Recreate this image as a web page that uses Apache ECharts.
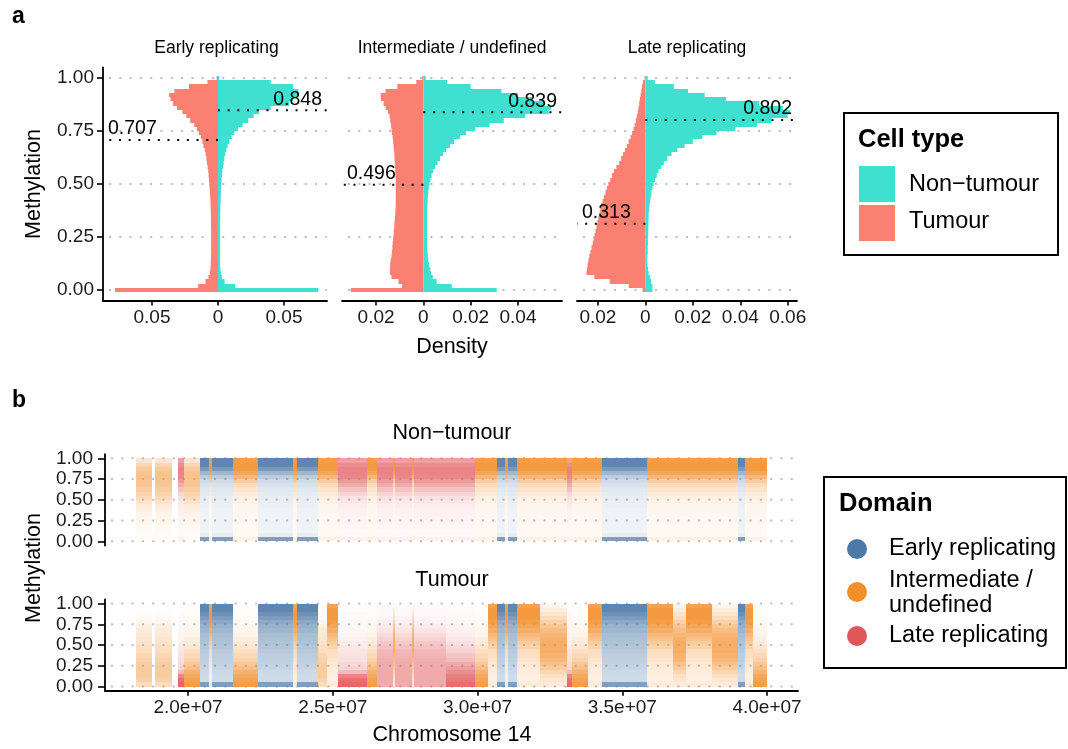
<!DOCTYPE html>
<html>
<head>
<meta charset="utf-8">
<script src="https://cdn.jsdelivr.net/npm/echarts@6/dist/echarts.min.js"></script>
<style>
  html, body { margin: 0; padding: 0; background: #fff; }
  #chart { width: 1068px; height: 749px; }
</style>
</head>
<body>
<div id="chart"></div>
<script>
// ---------------- Panel a: methylation histograms by replication domain ----------------
const domainNames = ['Early replicating', 'Intermediate / undefined', 'Late replicating'];
const cellTypeNames = ['Non\u2212tumour', 'Tumour'];
const cellTypeColours = ['#40E0D0', '#FA8072'];

// histogram bin centres (methylation), bin width 0.02
const binCentres = [
  0.00, 0.02, 0.04, 0.06, 0.08, 0.10, 0.12, 0.14, 0.16, 0.18,
  0.20, 0.22, 0.24, 0.26, 0.28, 0.30, 0.32, 0.34, 0.36, 0.38,
  0.40, 0.42, 0.44, 0.46, 0.48, 0.50, 0.52, 0.54, 0.56, 0.58,
  0.60, 0.62, 0.64, 0.66, 0.68, 0.70, 0.72, 0.74, 0.76, 0.78,
  0.80, 0.82, 0.84, 0.86, 0.88, 0.90, 0.92, 0.94, 0.96, 0.98, 1.00
];

// density per bin, one array per domain and cell type
const earlyNonTumour = [
  0.076, 0.013, 0.005, 0.003, 0.0022, 0.0018, 0.0016, 0.0015, 0.0015, 0.0015,
  0.0015, 0.0015, 0.0015, 0.0015, 0.0016, 0.0016, 0.0016, 0.0017, 0.0017, 0.0018,
  0.0019, 0.0020, 0.0021, 0.0022, 0.0023, 0.0025, 0.0028, 0.0030, 0.0033, 0.0038,
  0.0043, 0.0048, 0.0056, 0.0063, 0.0073, 0.0086, 0.0104, 0.0124, 0.0152, 0.0187,
  0.023, 0.027, 0.031, 0.040, 0.054, 0.057, 0.061, 0.061, 0.057, 0.040, 0.001
];
const earlyTumour = [
  0.078, 0.015, 0.0095, 0.0072, 0.0062, 0.0057, 0.0055, 0.0054, 0.0053, 0.0052,
  0.0052, 0.0052, 0.0052, 0.0052, 0.0052, 0.0053, 0.0053, 0.0053, 0.0054, 0.0055,
  0.0056, 0.0057, 0.0059, 0.0061, 0.0063, 0.0066, 0.0068, 0.0071, 0.0074, 0.0078,
  0.0083, 0.0088, 0.0094, 0.0100, 0.0110, 0.0118, 0.0130, 0.0145, 0.0160, 0.0180,
  0.0210, 0.0240, 0.0270, 0.0310, 0.0340, 0.0360, 0.0370, 0.0330, 0.0220, 0.0080, 0.0010
];
const intermediateNonTumour = [
  0.031, 0.012, 0.0056, 0.0040, 0.0033, 0.0028, 0.0024, 0.0021, 0.0019, 0.0017,
  0.0016, 0.0016, 0.0016, 0.0016, 0.0016, 0.0016, 0.0016, 0.0016, 0.0016, 0.0016,
  0.0017, 0.0018, 0.0019, 0.0021, 0.0023, 0.0026, 0.0030, 0.0035, 0.0042, 0.0050,
  0.0060, 0.0071, 0.0083, 0.0097, 0.0113, 0.0130, 0.0155, 0.0180, 0.0220, 0.0280,
  0.0340, 0.0430, 0.0530, 0.0540, 0.0510, 0.0460, 0.0400, 0.0330, 0.0200, 0.0100, 0.0010
];
const intermediateTumour = [
  0.0307, 0.0090, 0.0105, 0.0135, 0.0141, 0.0141, 0.0140, 0.0138, 0.0135, 0.0133,
  0.0131, 0.0130, 0.0128, 0.0126, 0.0125, 0.0123, 0.0122, 0.0120, 0.0119, 0.0118,
  0.0117, 0.0117, 0.0117, 0.0117, 0.0117, 0.0117, 0.0117, 0.0118, 0.0119, 0.0120,
  0.0121, 0.0122, 0.0123, 0.0125, 0.0126, 0.0128, 0.0130, 0.0133, 0.0135, 0.0137,
  0.0140, 0.0143, 0.0150, 0.0160, 0.0168, 0.0180, 0.0180, 0.0160, 0.0110, 0.0030, 0.0005
];
const lateNonTumour = [
  0.0030, 0.0030, 0.0024, 0.0020, 0.0014, 0.0011, 0.0009, 0.0008, 0.0009, 0.0010,
  0.0010, 0.0011, 0.0011, 0.0012, 0.0012, 0.0013, 0.0013, 0.0014, 0.0014, 0.0016,
  0.0018, 0.0020, 0.0023, 0.0026, 0.0030, 0.0035, 0.0041, 0.0048, 0.0056, 0.0066,
  0.0078, 0.0093, 0.0110, 0.0135, 0.0165, 0.0200, 0.0240, 0.0300, 0.0380, 0.0470,
  0.0530, 0.0600, 0.0610, 0.0580, 0.0480, 0.0340, 0.0250, 0.0180, 0.0120, 0.0040, 0.0010
];
const lateTumour = [
  0.0012, 0.0070, 0.0150, 0.0215, 0.0248, 0.0246, 0.0243, 0.0240, 0.0236, 0.0232,
  0.0227, 0.0222, 0.0218, 0.0214, 0.0210, 0.0206, 0.0202, 0.0198, 0.0194, 0.0190,
  0.0186, 0.0180, 0.0174, 0.0168, 0.0162, 0.0156, 0.0148, 0.0140, 0.0132, 0.0122,
  0.0110, 0.0102, 0.0094, 0.0086, 0.0078, 0.0070, 0.0062, 0.0056, 0.0050, 0.0045,
  0.0040, 0.0036, 0.0032, 0.0029, 0.0026, 0.0023, 0.0020, 0.0017, 0.0014, 0.0010, 0.0003
];

// median methylation per domain
const medianNonTumour = [0.848, 0.839, 0.802];
const medianTumour = [0.707, 0.496, 0.313];

// tick values (density axes are mirrored, labels show magnitude)
const methylationTicks = [0, 0.25, 0.5, 0.75, 1];
const densityTicks = [
  [-0.05, 0, 0.05],
  [-0.02, 0, 0.02, 0.04],
  [-0.02, 0, 0.02, 0.04, 0.06]
];

// ---------------- Panel b: methylation along chromosome 14 ----------------
const domainLegendNames = ['Early replicating', 'Intermediate /\nundefined', 'Late replicating'];
const domainColours = ['#4E79A7', '#F28E2B', '#E15759'];
const chromosomeTickPositions = [20, 25, 30, 35, 40];          // Mb
const chromosomeTickLabels = ['2.0e+07', '2.5e+07', '3.0e+07', '3.5e+07', '4.0e+07'];

// methylation bins for the point-density cells
const methylationBinEdges = [
  0.00, 0.05, 0.10, 0.15, 0.20, 0.25, 0.30, 0.35, 0.40, 0.45, 0.50,
  0.55, 0.60, 0.65, 0.70, 0.75, 0.80, 0.85, 0.90, 0.95, 1.00
];

// point density (0..1) in each methylation bin, low to high
const profileEarlyNormal     = [0.80, 0.14, 0.10, 0.10, 0.10, 0.10, 0.10, 0.11, 0.12, 0.13, 0.15, 0.17, 0.20, 0.24, 0.30, 0.42, 0.60, 0.85, 1.00, 1.00];
const profileMidNormal       = [0.14, 0.06, 0.06, 0.06, 0.07, 0.07, 0.08, 0.09, 0.10, 0.12, 0.15, 0.20, 0.26, 0.35, 0.50, 0.70, 0.88, 1.00, 1.00, 0.95];
const profileSparseHigh      = [0.04, 0.04, 0.05, 0.06, 0.08, 0.10, 0.12, 0.15, 0.20, 0.28, 0.36, 0.44, 0.50, 0.55, 0.58, 0.60, 0.58, 0.52, 0.42, 0.25];
const profileLateNormal      = [0.10, 0.05, 0.05, 0.06, 0.07, 0.08, 0.09, 0.10, 0.12, 0.15, 0.20, 0.28, 0.40, 0.55, 0.68, 0.78, 0.82, 0.82, 0.76, 0.62];
const profileEarlyTumour     = [0.80, 0.30, 0.30, 0.32, 0.35, 0.38, 0.40, 0.42, 0.45, 0.48, 0.50, 0.52, 0.55, 0.60, 0.65, 0.72, 0.82, 0.92, 1.00, 1.00];
const profileLow             = [0.95, 0.90, 0.85, 0.75, 0.65, 0.55, 0.45, 0.38, 0.30, 0.25, 0.20, 0.16, 0.12, 0.10, 0.08, 0.06, 0.05, 0.04, 0.03, 0.02];
const profileVeryLow         = [1.00, 0.95, 0.80, 0.45, 0.30, 0.25, 0.22, 0.20, 0.18, 0.15, 0.12, 0.10, 0.08, 0.06, 0.05, 0.04, 0.03, 0.03, 0.02, 0.02];
const profileSpread          = [0.55, 0.56, 0.56, 0.56, 0.56, 0.55, 0.53, 0.50, 0.46, 0.42, 0.36, 0.30, 0.24, 0.18, 0.13, 0.10, 0.07, 0.05, 0.04, 0.03];
const profileMid             = [0.20, 0.25, 0.30, 0.40, 0.50, 0.60, 0.70, 0.75, 0.80, 0.80, 0.80, 0.78, 0.72, 0.65, 0.55, 0.45, 0.35, 0.25, 0.18, 0.10];
const profileHighTail        = [0.20, 0.15, 0.15, 0.18, 0.20, 0.22, 0.26, 0.30, 0.35, 0.42, 0.50, 0.60, 0.70, 0.80, 0.88, 0.95, 1.00, 1.00, 1.00, 0.90];
const profileSparseLow       = [0.35, 0.45, 0.50, 0.50, 0.50, 0.48, 0.45, 0.40, 0.35, 0.30, 0.27, 0.25, 0.22, 0.20, 0.15, 0.10, 0.06, 0.04, 0.02, 0.01];
const densityProfiles = [
  profileEarlyNormal, profileMidNormal, profileSparseHigh, profileLateNormal,
  profileEarlyTumour, profileLow, profileVeryLow, profileSpread,
  profileMid, profileHighTail, profileSparseLow
];

// genomic blocks: [start Mb, end Mb, domain index, profile index]
const nonTumourBlocks = [
  [18.20, 18.75, 1, 2], [18.86, 19.45, 1, 2], [19.66, 19.85, 2, 3], [19.85, 20.40, 1, 2],
  [20.40, 20.72, 0, 0], [20.72, 20.82, 1, 1], [20.82, 21.55, 0, 0], [21.55, 22.42, 1, 1],
  [22.42, 23.62, 0, 0], [23.62, 23.76, 1, 1], [23.76, 24.50, 0, 0], [24.50, 25.18, 1, 1],
  [25.18, 26.18, 2, 3], [26.18, 26.53, 1, 1], [26.53, 27.08, 2, 3], [27.08, 27.14, 1, 1],
  [27.14, 27.74, 2, 3], [27.74, 27.80, 1, 1], [27.80, 29.90, 2, 3], [29.90, 30.67, 1, 1],
  [30.67, 30.95, 0, 0], [30.95, 31.05, 1, 1], [31.05, 31.36, 0, 0], [31.36, 33.09, 1, 1],
  [33.09, 33.26, 2, 3], [33.26, 34.30, 1, 1], [34.30, 35.85, 0, 0], [35.85, 38.99, 1, 1],
  [38.99, 39.23, 0, 0], [39.23, 40.00, 1, 1]
];
const tumourBlocks = [
  [18.20, 18.75, 1, 10], [18.86, 19.45, 1, 10], [19.66, 19.85, 2, 6], [19.85, 20.40, 1, 5],
  [20.40, 20.72, 0, 4], [20.72, 20.82, 1, 9], [20.82, 21.55, 0, 4], [21.55, 22.42, 1, 5],
  [22.42, 23.62, 0, 4], [23.62, 23.76, 1, 9], [23.76, 24.50, 0, 4], [24.50, 24.80, 1, 10],
  [24.80, 25.18, 1, 9], [25.18, 26.18, 2, 6], [26.18, 26.53, 1, 5], [26.53, 27.08, 2, 7],
  [27.08, 27.14, 1, 8], [27.14, 27.74, 2, 7], [27.74, 27.80, 1, 8], [27.80, 28.90, 2, 7],
  [28.90, 29.90, 2, 5], [29.90, 30.36, 1, 5], [30.36, 30.67, 1, 9], [30.67, 30.95, 0, 4],
  [30.95, 31.05, 1, 9], [31.05, 31.36, 0, 4], [31.36, 32.15, 1, 9], [32.15, 33.09, 1, 8],
  [33.09, 33.26, 2, 6], [33.26, 33.80, 1, 5], [33.80, 34.30, 1, 9], [34.30, 35.85, 0, 4],
  [35.85, 36.75, 1, 9], [36.75, 37.20, 1, 8], [37.20, 38.10, 1, 9], [38.10, 38.99, 1, 8],
  [38.99, 39.23, 0, 4], [39.23, 39.50, 1, 9], [39.50, 40.00, 1, 5]
];

// ---------------- helpers ----------------
const FONT = '"Liberation Sans", Arial, sans-serif';
const TEXT_COL = '#1a1a1a';

function rgba(hex, a) {
  const n = parseInt(hex.slice(1), 16);
  return 'rgba(' + (n >> 16) + ',' + ((n >> 8) & 255) + ',' + (n & 255) + ',' + a + ')';
}

function histData(values, side) {
  return binCentres.map((c, i) => [c, values[i], side]);
}

function buildCells(blocks) {
  const cells = [];
  blocks.forEach(([start, end, domain, profile]) => {
    densityProfiles[profile].forEach((alpha, k) => {
      cells.push([start, end, methylationBinEdges[k], methylationBinEdges[k + 1], domain, alpha]);
    });
  });
  return cells;
}

const halfBin = (binCentres[1] - binCentres[0]) / 2;

// one horizontal histogram bar, snapped to whole pixels so neighbours meet cleanly
function renderHistBar(params, api) {
  const c = api.value(0);
  const d = api.value(1) * api.value(2);
  const a = api.coord([0, c + halfBin]);
  const b = api.coord([d, c - halfBin]);
  const y0 = Math.round(a[1]), y1 = Math.round(b[1]);
  const x0 = Math.min(a[0], b[0]), x1 = Math.max(a[0], b[0]);
  return {
    type: 'rect',
    shape: { x: x0, y: y0, width: x1 - x0, height: y1 - y0 },
    style: { fill: api.visual('color') }
  };
}

function renderGridline(params, api) {
  const cs = params.coordSys;
  const y = api.coord([0, api.value(0)])[1];
  return {
    type: 'line',
    shape: { x1: cs.x + 6, y1: y, x2: cs.x + cs.width, y2: y },
    style: { stroke: '#BDBDBD', lineWidth: 2, lineDash: [2, 8.3] }
  };
}

function renderMedian(params, api) {
  const m = api.value(0);
  const side = api.value(1);
  const cs = params.coordSys;
  const p0 = api.coord([0, m]);
  const edge = side > 0 ? cs.x + cs.width : cs.x;
  return {
    type: 'group',
    children: [
      {
        type: 'line',
        shape: { x1: p0[0], y1: p0[1], x2: edge, y2: p0[1] },
        style: { stroke: '#000', lineWidth: 2, lineDash: [2, 7.7] }
      },
      {
        type: 'text',
        x: side > 0 ? edge - 5 : edge + 5,
        y: p0[1] - 1,
        style: {
          text: m.toFixed(3), fill: '#000', font: '19.5px ' + FONT,
          align: side > 0 ? 'right' : 'left', verticalAlign: 'bottom'
        }
      }
    ]
  };
}

// one genomic block x methylation bin cell, shaded by point density
function renderCell(params, api) {
  const p0 = api.coord([api.value(0), api.value(3)]);
  const p1 = api.coord([api.value(1), api.value(2)]);
  const x0 = Math.round(p0[0]), x1 = Math.max(Math.round(p1[0]), x0 + 1);
  const y0 = Math.round(p0[1]), y1 = Math.round(p1[1]);
  const a = api.value(5) * 0.9;
  return {
    type: 'rect',
    shape: { x: x0, y: y0, width: x1 - x0, height: y1 - y0 },
    style: { fill: rgba(domainColours[api.value(4)], a) }
  };
}

function densityLabel(v) {
  const a = Math.abs(v);
  return a < 1e-9 ? '0' : String(+a.toFixed(2));
}

// ---------------- layout ----------------
const grids = [
  { left: 103, top: 67.4, width: 224, height: 233.2 },
  { left: 342, top: 67.4, width: 220, height: 233.2 },
  { left: 577, top: 67.4, width: 220, height: 233.2 },
  { left: 105, top: 454.2, width: 693, height: 91.3 },
  { left: 105, top: 599.4, width: 693, height: 91.3 }
].map(g => Object.assign({ containLabel: false, outerBoundsMode: 'none' }, g));

const densityRanges = [[-0.0871, 0.0826], [-0.0344, 0.0586], [-0.0288, 0.0639]];
const chromRange = [17.133, 41.07];

const axisLine = { show: true, onZero: false, lineStyle: { color: '#000', width: 1.8 } };
const tickLine = { color: '#000', width: 1.6 };
const labelBase = { color: TEXT_COL, fontSize: 19, fontFamily: FONT };

const xAxes = [];
const yAxes = [];
for (let i = 0; i < 3; i++) {
  xAxes.push({
    type: 'value', gridIndex: i, min: densityRanges[i][0], max: densityRanges[i][1],
    axisLine: axisLine,
    axisTick: { show: true, length: 5, lineStyle: tickLine, customValues: densityTicks[i] },
    axisLabel: Object.assign({ margin: 8, customValues: densityTicks[i], formatter: densityLabel }, labelBase),
    splitLine: { show: false }
  });
  yAxes.push({
    type: 'value', gridIndex: i, min: -0.05, max: 1.05, show: i === 0,
    axisLine: axisLine,
    axisTick: { show: true, length: 6, lineStyle: tickLine, customValues: methylationTicks },
    axisLabel: Object.assign({ margin: 9, customValues: methylationTicks, formatter: v => v.toFixed(2) }, labelBase),
    splitLine: { show: false }
  });
}
for (let i = 3; i < 5; i++) {
  xAxes.push({
    type: 'value', gridIndex: i, min: chromRange[0], max: chromRange[1], show: i === 4,
    axisLine: axisLine,
    axisTick: { show: true, length: 5, lineStyle: tickLine, customValues: chromosomeTickPositions },
    axisLabel: Object.assign({
      margin: 8, customValues: chromosomeTickPositions,
      formatter: v => chromosomeTickLabels[chromosomeTickPositions.indexOf(Math.round(v))] || ''
    }, labelBase),
    splitLine: { show: false }
  });
  yAxes.push({
    type: 'value', gridIndex: i, min: -0.05, max: 1.05,
    axisLine: axisLine,
    axisTick: { show: true, length: 7, lineStyle: tickLine, customValues: methylationTicks },
    axisLabel: Object.assign({ margin: 12, customValues: methylationTicks, formatter: v => v.toFixed(2) }, labelBase),
    splitLine: { show: false }
  });
}

// ---------------- series ----------------
const series = [];
const histSets = [
  [earlyNonTumour, earlyTumour],
  [intermediateNonTumour, intermediateTumour],
  [lateNonTumour, lateTumour]
];
for (let i = 0; i < 5; i++) {
  series.push({
    type: 'custom', name: 'grid' + i, xAxisIndex: i, yAxisIndex: i, z: 1, silent: true, clip: false,
    renderItem: renderGridline, data: methylationTicks.map(v => [v])
  });
}
for (let i = 0; i < 3; i++) {
  series.push({
    type: 'custom', name: cellTypeNames[0], xAxisIndex: i, yAxisIndex: i, z: 2, silent: true,
    itemStyle: { color: cellTypeColours[0] }, renderItem: renderHistBar,
    data: histData(histSets[i][0], 1)
  });
  series.push({
    type: 'custom', name: cellTypeNames[1], xAxisIndex: i, yAxisIndex: i, z: 2, silent: true,
    itemStyle: { color: cellTypeColours[1] }, renderItem: renderHistBar,
    data: histData(histSets[i][1], -1)
  });
  series.push({
    type: 'custom', name: 'median' + i, xAxisIndex: i, yAxisIndex: i, z: 3, silent: true, clip: false,
    renderItem: renderMedian,
    data: [[medianNonTumour[i], 1], [medianTumour[i], -1]]
  });
}
series.push({
  type: 'custom', name: cellTypeNames[0] + ' points', xAxisIndex: 3, yAxisIndex: 3, z: 2, silent: true,
  renderItem: renderCell, data: buildCells(nonTumourBlocks)
});
series.push({
  type: 'custom', name: cellTypeNames[1] + ' points', xAxisIndex: 4, yAxisIndex: 4, z: 2, silent: true,
  renderItem: renderCell, data: buildCells(tumourBlocks)
});

// ---------------- titles, strips and legends ----------------
function txt(x, y, text, size, opts) {
  return Object.assign({
    type: 'text', x: x, y: y, z: 10,
    style: Object.assign({
      text: text, fill: '#000', font: size + 'px ' + FONT, align: 'center', verticalAlign: 'middle'
    }, (opts && opts.style) || {})
  }, (opts && opts.el) || {});
}

const graphics = [
  txt(12, 17, 'a', 23, { style: { font: 'bold 23px ' + FONT, align: 'left' } }),
  txt(12, 401, 'b', 23, { style: { font: 'bold 23px ' + FONT, align: 'left' } }),
  txt(216.5, 48, domainNames[0], 17.5),
  txt(452, 48, domainNames[1], 17.5),
  txt(687, 48, domainNames[2], 17.5),
  txt(452, 347, 'Density', 21.5),
  txt(34, 184, 'Methylation', 21.5, { el: { rotation: Math.PI / 2 } }),
  txt(452, 433, cellTypeNames[0], 21.5),
  txt(452, 580, cellTypeNames[1], 21.5),
  txt(452, 735, 'Chromosome 14', 21.5),
  txt(34, 568, 'Methylation', 21.5, { el: { rotation: Math.PI / 2 } }),
  // cell type legend
  { type: 'rect', z: 9, shape: { x: 844, y: 113, width: 214, height: 142 },
    style: { fill: '#fff', stroke: '#000', lineWidth: 2 } },
  txt(858, 140, 'Cell type', 26, { style: { font: 'bold 25.5px ' + FONT, align: 'left' } }),
  { type: 'rect', z: 10, shape: { x: 859, y: 166, width: 36, height: 36 }, style: { fill: cellTypeColours[0] } },
  { type: 'rect', z: 10, shape: { x: 859, y: 205, width: 36, height: 36 }, style: { fill: cellTypeColours[1] } },
  txt(909, 185, cellTypeNames[0], 23.5, { style: { align: 'left' } }),
  txt(909, 222, cellTypeNames[1], 23.5, { style: { align: 'left' } }),
  // domain legend
  { type: 'rect', z: 9, shape: { x: 824, y: 477, width: 242, height: 191 },
    style: { fill: '#fff', stroke: '#000', lineWidth: 2 } },
  txt(839, 504, 'Domain', 25.5, { style: { font: 'bold 25.5px ' + FONT, align: 'left' } }),
  { type: 'circle', z: 10, shape: { cx: 857, cy: 549, r: 10 }, style: { fill: domainColours[0] } },
  { type: 'circle', z: 10, shape: { cx: 857, cy: 592, r: 10 }, style: { fill: domainColours[1] } },
  { type: 'circle', z: 10, shape: { cx: 857, cy: 636, r: 10 }, style: { fill: domainColours[2] } },
  txt(889, 549, domainLegendNames[0], 23.5, { style: { align: 'left' } }),
  txt(889, 593, domainLegendNames[1], 23.5, { style: { align: 'left', lineHeight: 25 } }),
  txt(889, 636, domainLegendNames[2], 23.5, { style: { align: 'left' } })
];

const chart = echarts.init(document.getElementById('chart'), null, { renderer: 'canvas' });
chart.setOption({
  animation: false,
  backgroundColor: '#fff',
  grid: grids,
  xAxis: xAxes,
  yAxis: yAxes,
  series: series,
  graphic: graphics
});
</script>
</body>
</html>
